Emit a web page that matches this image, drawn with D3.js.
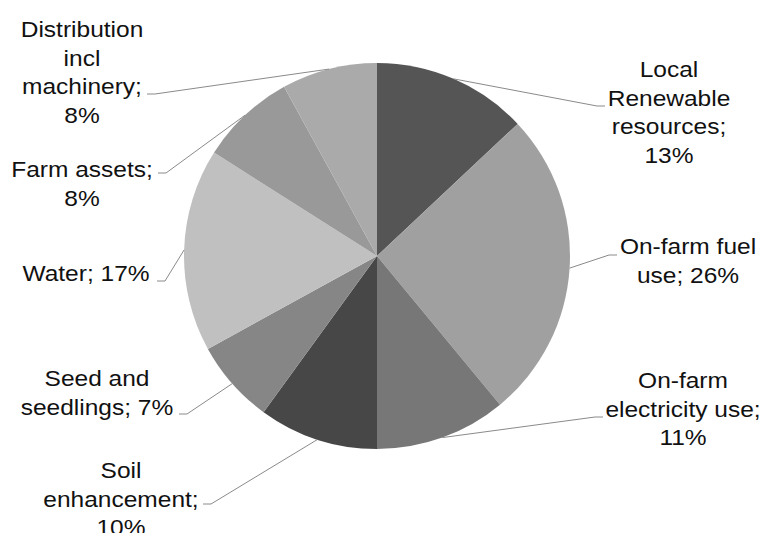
<!DOCTYPE html>
<html><head><meta charset="utf-8">
<script src="https://cdn.jsdelivr.net/npm/d3@7"></script>
<style>body{margin:0;background:#fff}svg{display:block}</style>
</head><body>
<svg id="c" width="766" height="533"></svg>
<script>
// ---- data ----
const categories = ["Local Renewable resources","On-farm fuel use","On-farm electricity use","Soil enhancement","Seed and seedlings","Water","Farm assets","Distribution incl machinery"];
const values = [13, 26, 11, 10, 7, 17, 8, 8];

// ---- styles / layout ----
const colors = ["#555555","#a0a0a0","#777777","#474747","#868686","#c0c0c0","#999999","#aaaaaa"];
const labelLines = [
  ["Local","Renewable","resources;","{v}"],
  ["On-farm fuel","use; {v}"],
  ["On-farm","electricity use;","{v}"],
  ["Soil","enhancement;","{v}"],
  ["Seed and","seedlings; {v}"],
  ["Water; {v}"],
  ["Farm assets;","{v}"],
  ["Distribution","incl","machinery;","{v}"]
];
const labelPos = [
  {cx:669, y0:77,  ex:605, ey:106, side:1},
  {cx:688, y0:254, ex:617, ey:255, side:1},
  {cx:683, y0:388, ex:603, ey:417, side:1},
  {cx:121, y0:478, ex:203, ey:504, side:-1},
  {cx:97,  y0:386, ex:179, ey:414, side:-1},
  {cx:86,  y0:281, ex:157, ey:281, side:-1},
  {cx:82,  y0:177, ex:158, ey:173, side:-1},
  {cx:82,  y0:37,  ex:147, ey:94,  side:-1}
];
const CX = 377, CY = 256, R = 193, LH = 28.7;

const svg = d3.select("#c");
const data = categories.map((c,i)=>({name:c, value:values[i], i}));
const pie = d3.pie().value(d=>d.value).sort(null);
const arcs = pie(data);
const arc = d3.arc().innerRadius(0).outerRadius(R);

const g = svg.append("g").attr("transform",`translate(${CX},${CY})`);
g.selectAll("path").data(arcs).join("path")
  .attr("d", arc)
  .attr("fill", d=>colors[d.data.i]);

// leader lines
svg.append("g").selectAll("polyline").data(arcs).join("polyline")
  .attr("fill","none").attr("stroke","#8a8a8a").attr("stroke-width",1)
  .attr("points", d=>{
    const a = (d.startAngle + d.endAngle)/2;
    const px = CX + R*Math.sin(a), py = CY - R*Math.cos(a);
    const p = labelPos[d.data.i];
    const elx = p.ex - p.side*8;
    return `${px},${py} ${elx},${p.ey} ${p.ex},${p.ey}`;
  });

// labels
const lg = svg.append("g");
arcs.forEach(d=>{
  const i = d.data.i, p = labelPos[i];
  const t = lg.append("g").attr("transform",`translate(${p.cx},0) scale(1.14,1)`);
  labelLines[i].forEach((ln,k)=>{
    t.append("text")
      .attr("x",0).attr("y",p.y0 + k*LH)
      .attr("text-anchor","middle")
      .attr("font-family","Liberation Sans, Arial, sans-serif")
      .attr("font-size","21.5px")
      .attr("fill","#111")
      .text(ln.replace("{v}", d.data.value + "%"));
  });
});
</script>
</body></html>
